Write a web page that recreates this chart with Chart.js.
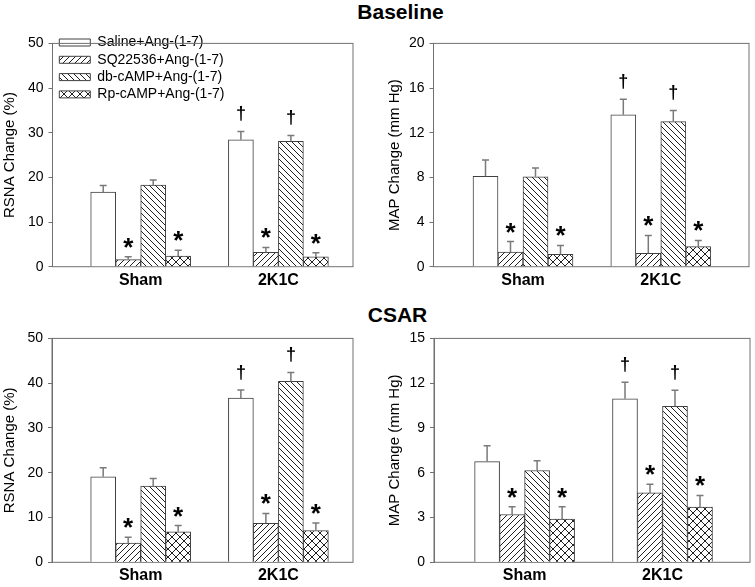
<!DOCTYPE html>
<html>
<head>
<meta charset="utf-8">
<script src="https://cdn.jsdelivr.net/npm/chart.js@4/dist/chart.umd.min.js"></script>
<style>
  body { margin: 0; background: #fff; }
  #wrap { position: relative; width: 755px; height: 587px; overflow: hidden; font-family: 'Liberation Sans', Arial, sans-serif; }
  .ttl { position: absolute; width: 200px; text-align: center; font-weight: bold; font-size: 21px; line-height: 21px; color: #000; }
  canvas { position: absolute; }
</style>
</head>
<body>
<div id="wrap">
  <div class="ttl" style="left:300.5px;top:1px">Baseline</div>
  <div class="ttl" style="left:297.5px;top:304px">CSAR</div>
  <canvas id="baseRsna"></canvas>
  <canvas id="baseMap"></canvas>
  <canvas id="csarRsna"></canvas>
  <canvas id="csarMap"></canvas>
</div>
<script>
// groups and series
const categories = ["Sham", "2K1C"];
const seriesNames = ["Saline+Ang-(1-7)", "SQ22536+Ang-(1-7)", "db-cAMP+Ang-(1-7)", "Rp-cAMP+Ang-(1-7)"];
// significance marks above each bar (series x group)
const sigMarks = [["", "†"], ["*", "*"], ["", "†"], ["*", "*"]];

// means (series x group) and SEM
const baselineRsna = [[16.7, 28.4], [1.6, 3.2], [18.3, 28.1], [2.4, 2.2]];
const baselineRsnaErr = [[1.5, 1.9], [0.6, 1.1], [1.1, 1.3], [1.3, 0.9]];
const baselineMap = [[8.1, 13.6], [1.3, 1.2], [8.05, 13.0], [1.1, 1.8]];
const baselineMapErr = [[1.45, 1.4], [0.95, 1.6], [0.8, 1.0], [0.8, 0.55]];
const csarRsna = [[19.1, 36.7], [4.3, 8.7], [17.0, 40.4], [6.8, 7.1]];
const csarRsnaErr = [[2.0, 1.8], [1.3, 2.2], [1.7, 2.0], [1.4, 1.7]];
const csarMap = [[6.75, 10.95], [3.2, 4.65], [6.15, 10.45], [2.9, 3.7]];
const csarMapErr = [[1.05, 1.12], [0.52, 0.58], [0.65, 1.08], [0.82, 0.78]];

// y tick labels
const rsnaTicks = [0, 10, 20, 30, 40, 50];
const baselineMapTicks = [0, 4, 8, 12, 16, 20];
const csarMapTicks = [0, 3, 6, 9, 12, 15];

const FONT = "'Liberation Sans', Arial, sans-serif";
const COLOR_FRAME = "#707070";
const COLOR_BAR_EDGE = "#404040";
const COLOR_ERR = "#7a7a7a";
const HATCH_INK = "#202020";
const X_AXIS_H = 26;

Chart.defaults.color = "#000";
Chart.defaults.font.family = FONT;

function makeHatch(kind) {
  const s = kind === "cross" ? 8 : 6;
  const c = document.createElement("canvas");
  c.width = s;
  c.height = s;
  const g = c.getContext("2d");
  g.fillStyle = "#fff";
  g.fillRect(0, 0, s, s);
  g.strokeStyle = HATCH_INK;
  g.lineWidth = 1;
  g.beginPath();
  if (kind === "up" || kind === "cross") {
    g.moveTo(-1, s + 1); g.lineTo(s + 1, -1);
    g.moveTo(-1, 1); g.lineTo(1, -1);
    g.moveTo(s - 1, s + 1); g.lineTo(s + 1, s - 1);
  }
  if (kind === "down" || kind === "cross") {
    g.moveTo(-1, -1); g.lineTo(s + 1, s + 1);
    g.moveTo(s - 1, -1); g.lineTo(s + 1, 1);
    g.moveTo(-1, s - 1); g.lineTo(1, s + 1);
  }
  g.stroke();
  return g.createPattern(c, "repeat");
}

const fills = ["#fff", makeHatch("up"), makeHatch("down"), makeHatch("cross")];

// frame around plot area, error bars and significance marks
const frameAndErrors = {
  id: "frameAndErrors",
  afterLayout(chart, args, opts) {
    if (opts.legendShift && chart.legend) {
      chart.legend.left += opts.legendShift[0];
      chart.legend.top += opts.legendShift[1];
    }
  },
  beforeDatasetsDraw(chart) {
    const { ctx, chartArea: a } = chart;
    ctx.save();
    ctx.strokeStyle = COLOR_FRAME;
    ctx.lineWidth = 1;
    ctx.strokeRect(a.left, a.top, a.right - a.left, a.bottom - a.top);
    ctx.restore();
  },
  afterDatasetsDraw(chart) {
    const ctx = chart.ctx;
    const yScale = chart.scales.y;
    chart.data.datasets.forEach((ds, d) => {
      const meta = chart.getDatasetMeta(d);
      meta.data.forEach((bar, i) => {
        const v = meta.controller.getParsed(i).y;
        const top = yScale.getPixelForValue(v + ds.errors[i]);
        ctx.save();
        ctx.strokeStyle = COLOR_ERR;
        ctx.lineWidth = 1.5;
        ctx.beginPath();
        ctx.moveTo(bar.x, bar.y);
        ctx.lineTo(bar.x, top);
        ctx.moveTo(bar.x - 3.5, top);
        ctx.lineTo(bar.x + 3.5, top);
        ctx.stroke();
        const mark = ds.marks[i];
        if (mark) {
          ctx.fillStyle = "#000";
          ctx.textAlign = "center";
          ctx.textBaseline = "alphabetic";
          if (mark === "*") {
            ctx.font = "bold 26px " + FONT;
            ctx.fillText(mark, bar.x, top - 1);
          } else {
            ctx.font = "bold 18px " + FONT;
            ctx.fillText(mark, bar.x, top - 12);
          }
        }
        ctx.restore();
      });
    });
  },
};

function buildPanel(id, cfg) {
  const canvas = document.getElementById(id);
  const box = cfg.canvas;
  const f = cfg.frame;
  canvas.style.left = box.x + "px";
  canvas.style.top = box.y + "px";
  canvas.width = box.w;
  canvas.height = box.h;

  const datasets = seriesNames.map((name, s) => ({
    label: name,
    data: categories.map((c, i) => ({ x: i + 1, y: cfg.values[s][i] })),
    errors: cfg.errors[s],
    marks: sigMarks[s],
    backgroundColor: fills[s],
    borderColor: COLOR_BAR_EDGE,
    borderWidth: 1,
    barThickness: 25,
  }));

  new Chart(canvas, {
    type: "bar",
    data: { datasets },
    options: {
      responsive: false,
      animation: false,
      events: [],
      layout: {
        padding: {
          left: 0,
          top: f.t - box.y,
          right: box.x + box.w - f.r,
          bottom: box.y + box.h - f.b - X_AXIS_H,
        },
      },
      scales: {
        x: {
          type: "linear",
          offset: false,
          min: cfg.xRange[0],
          max: cfg.xRange[1],
          grid: { display: false, drawTicks: false, offset: false },
          border: { display: false },
          afterBuildTicks: (s) => { s.ticks = categories.map((c, i) => ({ value: i + 1 })); },
          afterFit: (s) => { s.height = X_AXIS_H; },
          ticks: {
            padding: 4,
            font: { size: 16, weight: "bold" },
            callback: (v, i) => categories[i],
          },
        },
        y: {
          min: cfg.yTicks[0],
          max: cfg.yTicks[cfg.yTicks.length - 1],
          afterBuildTicks: (s) => { s.ticks = cfg.yTicks.map((v) => ({ value: v })); },
          afterFit: (s) => { s.width = f.l - box.x; },
          grid: { drawOnChartArea: false, tickLength: 4, color: COLOR_FRAME },
          border: { color: COLOR_FRAME },
          ticks: { padding: 5, font: { size: 14 } },
          title: { display: true, text: cfg.yTitle, font: { size: 15 }, padding: { top: 1, bottom: 0 } },
        },
      },
      plugins: {
        legend: cfg.legend
          ? {
              position: "chartArea",
              align: "start",
              labels: { boxWidth: 31, boxHeight: 7, padding: 3.3, font: { size: 14 }, color: "#000" },
            }
          : { display: false },
        tooltip: { enabled: false },
        frameAndErrors: { legendShift: cfg.legend ? [3.5, 2.2] : null },
      },
    },
    plugins: [frameAndErrors],
  });
}

buildPanel("baseRsna", {
  canvas: { x: 0, y: 30, w: 377, h: 270 },
  frame: { l: 52.5, r: 353, t: 41.7, b: 266.7 },
  xRange: [0.3595, 2.5418],
  values: baselineRsna, errors: baselineRsnaErr,
  yTicks: rsnaTicks, yTitle: "RSNA Change (%)", legend: true,
});
buildPanel("baseMap", {
  canvas: { x: 385, y: 30, w: 370, h: 270 },
  frame: { l: 433.5, r: 749, t: 41.7, b: 266.7 },
  xRange: [0.3505, 2.64],
  values: baselineMap, errors: baselineMapErr,
  yTicks: baselineMapTicks, yTitle: "MAP Change (mm Hg)", legend: false,
});
buildPanel("csarRsna", {
  canvas: { x: 0, y: 325, w: 377, h: 262 },
  frame: { l: 52, r: 353, t: 337.3, b: 562.3 },
  xRange: [0.356, 2.5418],
  values: csarRsna, errors: csarRsnaErr,
  yTicks: rsnaTicks, yTitle: "RSNA Change (%)", legend: false,
});
buildPanel("csarMap", {
  canvas: { x: 385, y: 325, w: 370, h: 262 },
  frame: { l: 434, r: 750, t: 337.3, b: 562.3 },
  xRange: [0.343, 2.6345],
  values: csarMap, errors: csarMapErr,
  yTicks: csarMapTicks, yTitle: "MAP Change (mm Hg)", legend: false,
});
</script>
</body>
</html>
